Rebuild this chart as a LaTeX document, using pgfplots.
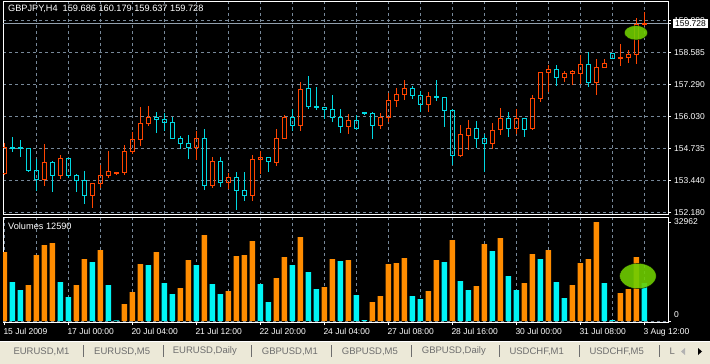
\documentclass[border=0pt]{standalone}
\usepackage{pgfplots}
\pgfplotsset{compat=1.18}
\usepackage{pgfplotstable}
\usepgfplotslibrary{statistics}
\usepackage{fontspec}
\setmainfont{Liberation Sans}
\definecolor{candleup}{RGB}{255,69,0}
\definecolor{candledn}{RGB}{0,215,225}
\definecolor{volup}{RGB}{255,140,0}
\definecolor{voldn}{RGB}{0,245,245}
\definecolor{gridc}{RGB}{119,136,153}
\definecolor{tabbg}{RGB}{236,233,216}
\definecolor{tabtxt}{RGB}{110,110,110}
\definecolor{blob}{RGB}{110,205,0}
\newcommand\mtfont{\fontsize{8.5}{10}\selectfont}

\pgfplotstableread{
i o h l c v d
0 153.725 154.942 153.673 154.782 22977 1
1 154.766 155.182 154.605 154.742 12987 0
2 154.766 155.074 154.405 154.742 10323 0
3 154.742 154.742 153.793 153.845 11988 1
4 153.861 154.325 153.044 153.485 21978 1
5 153.501 154.914 153.244 154.181 25308 1
6 154.181 154.233 153.004 153.645 25974 1
7 153.645 154.461 153.513 154.341 12987 0
8 154.341 154.365 153.565 153.645 7992 0
9 153.645 153.701 153.004 153.461 11988 1
10 153.461 153.821 152.524 152.844 20646 1
11 152.844 153.340 152.364 153.340 19647 0
12 153.340 154.061 153.164 153.661 23643 1
13 153.661 154.633 153.565 153.821 11988 0
14 153.725 153.793 153.713 153.793 200 0
15 153.765 154.862 153.685 154.633 5661 1
16 154.605 155.394 154.525 155.102 9657 1
17 155.102 156.395 154.834 155.754 18981 1
18 155.726 156.435 155.646 155.994 18648 0
19 155.994 156.195 155.354 155.886 22977 1
20 155.902 156.143 155.434 155.766 12654 0
21 155.794 155.994 155.126 155.126 8991 0
22 155.142 155.222 154.726 154.926 10989 1
23 154.942 155.274 154.313 154.766 20313 1
24 154.766 155.434 154.273 155.154 18648 0
25 155.154 155.514 153.072 153.244 28638 1
26 153.244 154.393 153.164 154.221 12321 0
27 154.221 154.393 153.204 153.364 8991 0
28 153.364 153.753 153.100 153.593 9990 1
29 153.581 153.781 152.284 153.044 21645 1
30 153.060 153.793 152.644 152.844 21978 1
31 152.844 154.461 152.644 154.301 26640 1
32 154.285 154.633 153.713 154.381 12321 0
33 154.381 154.381 153.805 154.205 6327 0
34 154.181 155.514 154.045 155.142 14319 1
35 155.126 156.063 155.126 155.982 21312 1
36 155.982 156.303 155.446 155.662 18648 0
37 155.662 157.396 155.446 157.103 27972 1
38 157.143 157.636 156.327 156.407 16317 0
39 156.423 157.195 156.287 156.367 10656 0
40 156.383 156.383 155.926 156.287 11322 1
41 156.303 156.875 155.806 155.982 20646 1
42 155.982 156.315 155.366 155.606 19980 0
43 155.606 156.115 155.326 155.862 20313 1
44 155.862 156.063 155.474 155.554 8658 0
45 156.183 156.195 156.075 156.115 300 0
46 156.143 156.195 155.114 155.646 6327 1
47 155.646 156.167 155.526 155.982 8325 1
48 155.982 156.943 155.794 156.663 18981 1
49 156.663 157.143 156.407 156.903 19314 1
50 156.903 157.476 156.675 157.143 20979 1
51 157.143 157.235 156.715 156.847 8325 0
52 156.855 157.023 156.207 156.503 7326 0
53 156.503 156.983 156.207 156.823 9990 1
54 156.835 157.476 156.647 156.783 20313 1
55 156.783 156.783 155.594 156.255 19647 0
56 156.263 156.327 154.073 154.453 26973 1
57 154.453 155.674 154.405 155.302 13320 0
58 155.262 155.874 154.685 155.542 10323 0
59 155.542 155.822 154.742 155.126 11655 1
60 155.142 155.326 153.805 154.926 25641 1
61 154.926 155.742 154.714 155.462 23310 0
62 155.502 156.343 155.274 155.942 27639 1
63 155.942 156.195 155.194 155.526 14985 0
64 155.526 156.303 155.302 155.942 10323 0
65 155.942 155.942 155.194 155.486 12654 1
66 155.526 156.875 155.486 156.743 22311 1
67 156.743 157.784 156.595 157.784 20646 0
68 157.784 158.076 157.007 157.904 23643 1
69 157.904 158.076 157.247 157.576 12987 0
70 157.584 157.836 157.408 157.744 7659 0
71 157.756 157.876 157.287 157.808 11988 1
72 157.744 158.464 157.315 158.116 19314 1
73 158.104 158.584 157.207 157.367 20646 1
74 157.367 158.304 156.887 157.984 32962 1
75 157.968 158.304 157.968 158.144 12654 0
76 158.544 158.544 158.328 158.328 300 0
77 158.328 158.905 158.048 158.396 9324 1
78 158.368 158.664 158.156 158.504 10656 1
79 158.504 159.957 158.128 159.686 21312 1
80 159.686 160.179 159.637 159.728 12590 0
}\candles

\pgfplotsset{mtstyle/.style={
  scale only axis, width=665pt,
  xmin=-0.1625, xmax=82.96,
  axis line style={white, line width=1pt},
  tick style={white, line width=1pt},
  major tick length=3pt, minor tick length=0pt,
  tick align=outside,
  grid style={gridc, dash pattern=on 3pt off 3pt, line width=1pt},
  tick label style={font=\mtfont, text=white},
  scaled x ticks=false, scaled y ticks=false,
  /pgf/number format/assume math mode=true,
}}

\begin{document}
\begin{tikzpicture}
\fill[black] (0,0) rectangle (710pt,-364pt);

% ---------------- price panel ----------------
\begin{axis}[mtstyle,
  at={(3pt,-214pt)}, anchor=south west, height=213pt,
  ymin=152.112, ymax=160.638,
  xtick={4,8,...,80}, xticklabels={}, major x tick style={draw=none},
  xticklabel style={opacity=0},
  xmajorgrids, ymajorgrids,
  ytick={152.180,153.461,154.742,156.023,157.304,158.585,159.866},
  yticklabels={152.180,153.440,154.735,156.030,157.290,158.585,159.880},
  ytick pos=right, yticklabel pos=right,
  yticklabel style={anchor=west, inner xsep=0pt, xshift=3pt},
  extra y ticks={159.728}, extra y tick labels={159.728},
  extra y tick style={major grid style={solid, gridc!80!white, line width=1pt},
     yticklabel style={fill=white, text=black, inner xsep=2pt, inner ysep=1.5pt, xshift=-1pt}},
  boxplot/draw direction=y,
]
\pgfplotsforeachungrouped \k in {0,...,80}{%
  \pgfplotstablegetelem{\k}{o}\of\candles \let\cO\pgfplotsretval
  \pgfplotstablegetelem{\k}{h}\of\candles \let\cH\pgfplotsretval
  \pgfplotstablegetelem{\k}{l}\of\candles \let\cL\pgfplotsretval
  \pgfplotstablegetelem{\k}{c}\of\candles \let\cC\pgfplotsretval
  \pgfmathsetmacro\cBL{min(\cO,\cC)}%
  \pgfmathsetmacro\cBH{max(\cO,\cC)}%
  \pgfmathtruncatemacro\cUp{\cC>=\cO}%
  \ifnum\cUp=1 \def\cCol{candleup}\else\def\cCol{candledn}\fi
  \edef\doplot{\noexpand\addplot[draw=\cCol, line width=1pt,
     boxplot prepared={lower whisker=\cL, lower quartile=\cBL, median=\cBL,
       upper quartile=\cBH, upper whisker=\cH, draw position=\k,
       box extend=0.5, whisker extend=0}] coordinates {};}%
  \doplot
}
\addplot[only marks, mark=*, mark size=7.2pt,
  mark options={xscale=1.62, fill=blob, draw=none, opacity=0.9}]
  coordinates {(78.96,159.365)};
\end{axis}

% ---------------- volume panel ----------------
\begin{axis}[mtstyle,
  at={(3pt,-322pt)}, anchor=south west, height=105pt,
  ymin=-333, ymax=34632,
  xtick={0,8,...,80},
  xticklabels={15 Jul 2009,17 Jul 00:00,20 Jul 04:00,21 Jul 12:00,22 Jul 20:00,24 Jul 04:00,27 Jul 08:00,28 Jul 16:00,30 Jul 00:00,31 Jul 08:00,3 Aug 12:00},
  xticklabel style={anchor=north west, inner sep=0pt, xshift=-1pt, yshift=-3pt},
  minor xtick={4,12,...,76},
  xmajorgrids, xminorgrids,
  minor grid style={gridc, dash pattern=on 3pt off 3pt, line width=1pt},
  xtick pos=left,
  ytick={32962}, yticklabels={32962},
  ytick pos=right, yticklabel pos=right,
  yticklabel style={anchor=west, inner xsep=0pt, xshift=3pt},
  extra y ticks={0}, extra y tick labels={0},
  extra y tick style={grid=major, yticklabel style={yshift=6pt}},
]
\addplot[ybar, bar width=0.7, bar shift=0pt, fill=volup, draw=none,
  restrict expr to domain={\thisrow{d}}{1:1}] table[x=i, y=v] {\candles};
\addplot[ybar, bar width=0.7, bar shift=0pt, fill=voldn, draw=none,
  restrict expr to domain={\thisrow{d}}{0:0}] table[x=i, y=v] {\candles};
\addplot[only marks, mark=*, mark size=12.7pt,
  mark options={xscale=1.44, fill=blob, draw=none, opacity=0.9}]
  coordinates {(79.2,14985)};
\end{axis}

% ---------------- texts ----------------
\node[anchor=west, inner sep=0pt, text=white, font=\fontsize{9.2}{11}\selectfont] at (8pt,-9.3pt)
  {GBPJPY,H4\ \ 159.686 160.179 159.637 159.728};
\node[anchor=west, inner sep=0pt, text=white, font=\fontsize{9.2}{11}\selectfont] at (8pt,-226pt)
  {Volumes 12590};

% ---------------- tab bar ----------------
\fill[tabbg] (0,-341pt) rectangle (710pt,-364pt);
\draw[white, line width=1pt] (0,-341pt) -- (710pt,-341pt);
\foreach \xx/\tt in {13.3/EURUSD{,}M1, 94/EURUSD{,}M5, 172.7/EURUSD{,}Daily, 261.7/GBPUSD{,}M1, 341.7/GBPUSD{,}M5, 421.7/GBPUSD{,}Daily, 509.3/USDCHF{,}M1, 589.3/USDCHF{,}M5, 669.3/L}
  \node[anchor=west, inner sep=0pt, text=tabtxt, font=\fontsize{9.5}{11}\selectfont] at (\xx pt,-351.5pt) {\tt};
\foreach \xx in {83.3,163.3,251.7,331.7,411.7,499.3,579.3,659.3}
  \draw[tabtxt, line width=1pt] (\xx pt,-345pt) -- (\xx pt,-357pt);
\fill[gray!60] (681pt,-351.5pt) -- (685pt,-348pt) -- (685pt,-355pt) -- cycle;
\fill[black] (702pt,-351.5pt) -- (698pt,-348pt) -- (698pt,-355pt) -- cycle;

\pgfresetboundingbox
\path (0,0) rectangle (710pt,-364pt);
\end{tikzpicture}
\end{document}
